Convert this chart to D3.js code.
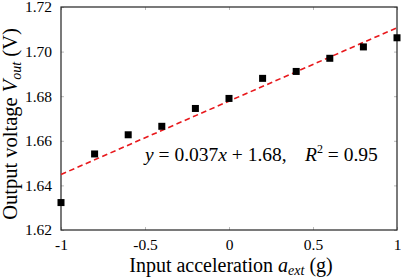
<!DOCTYPE html>
<html><head><meta charset="utf-8">
<script src="https://cdn.jsdelivr.net/npm/d3@7"></script>
<style>body{margin:0;background:#fff}svg{display:block}text{font-family:"Liberation Serif","Times New Roman",serif}</style>
</head><body><svg id="c" width="401" height="277"></svg>
<script>
const accel = [-1, -0.8, -0.6, -0.4, -0.2, 0, 0.2, 0.4, 0.6, 0.8, 1];
const voltage = [1.6323, 1.6541, 1.6627, 1.6665, 1.6745, 1.6790, 1.6880, 1.6911, 1.6970, 1.7021, 1.7062];
const fitX = [-1, 1];
const fitY = [1.6449, 1.7107];
const xTicks = [-1, -0.5, 0, 0.5, 1];
const xTickLabels = ["-1", "-0.5", "0", "0.5", "1"];
const yTicks = [1.62, 1.64, 1.66, 1.68, 1.70, 1.72];
const yTickLabels = ["1.62", "1.64", "1.66", "1.68", "1.70", "1.72"];

const svg = d3.select("#c");
const L = 61, R = 397, T = 7, B = 230;
const x = d3.scaleLinear().domain([-1, 1]).range([L, R]);
const y = d3.scaleLinear().domain([1.62, 1.72]).range([B, T]);

const tc = "#bbb";
const xb = svg.append("g").attr("transform", `translate(0,${B})`)
  .call(d3.axisBottom(x).tickValues(xTicks).tickSize(-3).tickFormat((d,i)=>xTickLabels[i]));
const xt = svg.append("g").attr("transform", `translate(0,${T})`)
  .call(d3.axisTop(x).tickValues(xTicks).tickSize(-3).tickFormat(""));
const yl = svg.append("g").attr("transform", `translate(${L},0)`)
  .call(d3.axisLeft(y).tickValues(yTicks).tickSize(-3).tickFormat((d,i)=>yTickLabels[i]));
const yr = svg.append("g").attr("transform", `translate(${R},0)`)
  .call(d3.axisRight(y).tickValues(yTicks).tickSize(-3).tickFormat(""));
[xb, xt, yl, yr].forEach(g => {
  g.attr("font-family", null);
  g.select(".domain").remove();
  g.selectAll(".tick line").attr("stroke", tc);
  g.selectAll("text").attr("font-size", 15.5).attr("fill", "#000")
   .style("font-family", '"Liberation Serif", serif');
});
xb.selectAll("text").attr("y", 9).attr("dy", "0.71em");
yl.selectAll("text").attr("x", -9).attr("dy", "0.32em");

svg.append("rect").attr("x", L).attr("y", T).attr("width", R - L).attr("height", B - T)
  .attr("fill", "none").attr("stroke", "#222").attr("stroke-width", 1.2);

svg.append("line")
  .attr("x1", x(fitX[0])).attr("y1", y(fitY[0]))
  .attr("x2", x(fitX[1])).attr("y2", y(fitY[1]))
  .attr("stroke", "#e8181c").attr("stroke-width", 1.6).attr("stroke-dasharray", "5.5,3.5");

const s = 7;
svg.append("g").selectAll("rect").data(accel).join("rect")
  .attr("x", (d) => x(d) - s / 2)
  .attr("y", (d, i) => y(voltage[i]) - s / 2)
  .attr("width", s).attr("height", s).attr("fill", "#000");

const eq = svg.append("text").attr("x", 145).attr("y", 160.5).attr("font-size", 19.5);
eq.append("tspan").attr("font-style", "italic").text("y");
eq.append("tspan").text(" = 0.037");
eq.append("tspan").attr("font-style", "italic").text("x");
eq.append("tspan").text(" + 1.68,");
const eq2 = svg.append("text").attr("x", 305).attr("y", 160.5).attr("font-size", 19.5);
eq2.append("tspan").attr("font-style", "italic").text("R");
eq2.append("tspan").attr("font-size", 12).attr("dy", -8).text("2");
eq2.append("tspan").attr("dy", 8).text(" = 0.95");

const xtitle = svg.append("text").attr("x", 231).attr("y", 272).attr("text-anchor", "middle").attr("font-size", 20);
xtitle.append("tspan").text("Input acceleration ");
xtitle.append("tspan").attr("font-style", "italic").text("a");
xtitle.append("tspan").attr("font-style", "italic").attr("font-size", 14).attr("dy", 3).text("ext");
xtitle.append("tspan").attr("dy", -3).text(" (g)");

const ytitle = svg.append("text").attr("transform", "translate(17,124) rotate(-90)")
  .attr("text-anchor", "middle").attr("font-size", 20.5);
ytitle.append("tspan").text("Output voltage ");
ytitle.append("tspan").attr("font-style", "italic").text("V");
ytitle.append("tspan").attr("font-style", "italic").attr("font-size", 14).attr("dy", 4).text("out");
ytitle.append("tspan").attr("dy", -4).text(" (V)");
</script></body></html>
